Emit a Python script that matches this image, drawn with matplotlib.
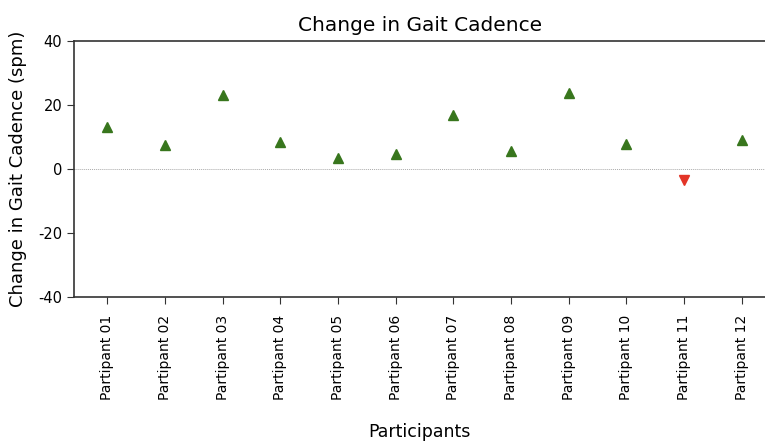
import matplotlib
matplotlib.use("Agg")
import matplotlib.pyplot as plt

plt.rcParams["axes.unicode_minus"] = False

# participant labels (spelling as in the source chart)
participants = ["Partipant %02d" % i for i in range(1, 13)]
cadence_change = [13.1, 7.5, 23.1, 8.4, 3.4, 4.8, 16.9, 5.6, 23.9, 7.8, -3.4, 9.1]

green = "#38761d"
red = "#e33427"

fig = plt.figure(figsize=(7.65, 4.42), dpi=100)
ax = fig.add_axes([0.097, 0.328, 0.903, 0.579])

x = list(range(len(participants)))
for xi, val in zip(x, cadence_change):
    if val >= 0:
        ax.plot(xi, val, marker="^", color=green, ms=7.5, linestyle="none")
    else:
        ax.plot(xi, val, marker="v", color=red, ms=7.5, linestyle="none")

# zero reference line
ax.axhline(0, color="#aaaaaa", linewidth=0.7, linestyle=(0, (1, 1)), zorder=0)

ax.set_xlim(-0.57, 11.4)
ax.set_ylim(-40, 40)
ax.set_yticks([-40, -20, 0, 20, 40])
ax.set_xticks(x)
ax.set_xticklabels(participants, rotation=90, fontsize=10)
ax.tick_params(axis="y", labelsize=10.5, direction="out", length=5, color="#333333")
ax.tick_params(axis="x", direction="out", length=5, pad=8, color="#333333")

ax.spines["right"].set_visible(False)
for s in ["left", "top", "bottom"]:
    ax.spines[s].set_color("#333333")
    ax.spines[s].set_linewidth(1.2)

ax.set_title("Change in Gait Cadence", fontsize=14.5, pad=7)
ax.set_ylabel("Change in Gait Cadence (spm)", fontsize=13, labelpad=8)
ax.set_xlabel("Participants", fontsize=12.5, labelpad=16)

fig.savefig("out.png", dpi=100)
